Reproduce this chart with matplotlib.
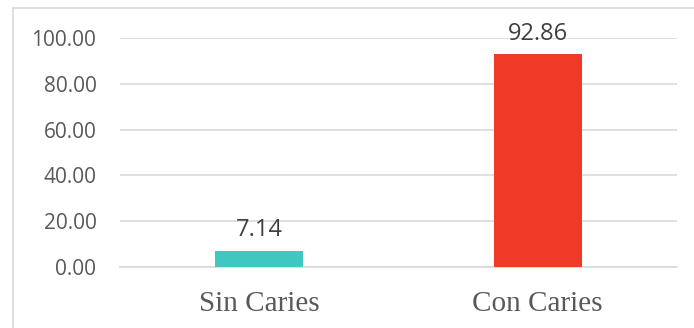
import matplotlib
matplotlib.use("Agg")
import matplotlib.pyplot as plt
from matplotlib.lines import Line2D

categories = ["Sin Caries", "Con Caries"]
values = [7.14, 92.86]
bar_colors = ["#40C8C0", "#EE3A27"]
yticks = [0, 20, 40, 60, 80, 100]

W, H = 694, 328
fig = plt.figure(figsize=(W / 100, H / 100), dpi=100)
x0, x1 = 120, 677
y0, y1 = 267, 38
ax = fig.add_axes([x0 / W, 1 - y0 / H, (x1 - x0) / W, (y0 - y1) / H])

pos = list(range(len(categories)))
ax.bar(pos, values, width=0.316, color=bar_colors, zorder=3)
ax.set_xlim(-0.5, len(categories) - 0.5)
ax.set_ylim(0, 100)
ax.set_yticks(yticks)
ax.set_yticklabels([f"{v:.2f}" for v in yticks], family="Open Sans", fontsize=15, color="#595959")
ax.set_xticks(pos)
ax.set_xticklabels(categories, family="Liberation Serif", fontsize=21, color="#595959")
ax.tick_params(axis="y", length=0, pad=17)
ax.tick_params(axis="x", length=0, pad=17)
ax.grid(axis="y", color="#D9D9D9", linewidth=1.2, zorder=0)
ax.set_axisbelow(True)
for s in ax.spines.values():
    s.set_visible(False)
ax.spines["bottom"].set_visible(True)
ax.spines["bottom"].set_color("#D9D9D9")
ax.spines["bottom"].set_linewidth(1.2)

for p, v in zip(pos, values):
    ax.annotate(f"{v:.2f}", (p, v), xytext=(0, 6), textcoords="offset points",
                ha="center", va="bottom", family="Open Sans", fontsize=17, color="#404040")

# outer border (top and left visible)
fig.add_artist(Line2D([13 / W, 1.0], [1 - 8 / H, 1 - 8 / H], transform=fig.transFigure, color="#D9D9D9", lw=1.2))
fig.add_artist(Line2D([13 / W, 13 / W], [0, 1 - 8 / H], transform=fig.transFigure, color="#D9D9D9", lw=1.2))

fig.savefig("out.png", dpi=100)
